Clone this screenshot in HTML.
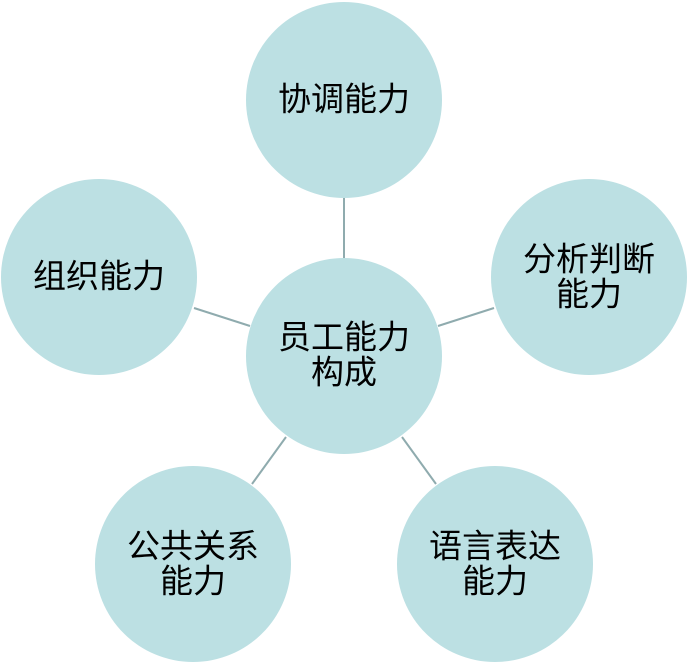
<!DOCTYPE html>
<html><head><meta charset="utf-8"><style>
html,body{margin:0;padding:0;background:#fff;width:688px;height:664px;overflow:hidden}
text{font-family:"Liberation Sans","Noto Sans CJK SC",sans-serif;font-size:33px;fill:#000;text-anchor:middle;dominant-baseline:central}
</style></head><body>
<svg width="688" height="664" xmlns="http://www.w3.org/2000/svg">
<g stroke="#8fabae" stroke-width="2">
<line x1="344" y1="198" x2="344" y2="259"/>
<line x1="194" y1="308" x2="250" y2="326"/>
<line x1="438" y1="326" x2="494" y2="308"/>
<line x1="252" y1="484" x2="286" y2="437"/>
<line x1="402" y1="437" x2="436" y2="484"/>
</g>
<g fill="#bce0e3">
<circle cx="344" cy="100" r="98"/>
<circle cx="99" cy="277" r="98"/>
<circle cx="589" cy="277" r="98"/>
<circle cx="344" cy="356" r="98"/>
<circle cx="193" cy="564" r="98"/>
<circle cx="495" cy="564" r="98"/>
</g>
<text x="344" y="99">协调能力</text>
<text x="99" y="276">组织能力</text>
<text x="589" y="259">分析判断</text>
<text x="589" y="294">能力</text>
<text x="344" y="337">员工能力</text>
<text x="344" y="372">构成</text>
<text x="193" y="546">公共关系</text>
<text x="193" y="581">能力</text>
<text x="495" y="546">语言表达</text>
<text x="495" y="581">能力</text>
</svg>
</body></html>
